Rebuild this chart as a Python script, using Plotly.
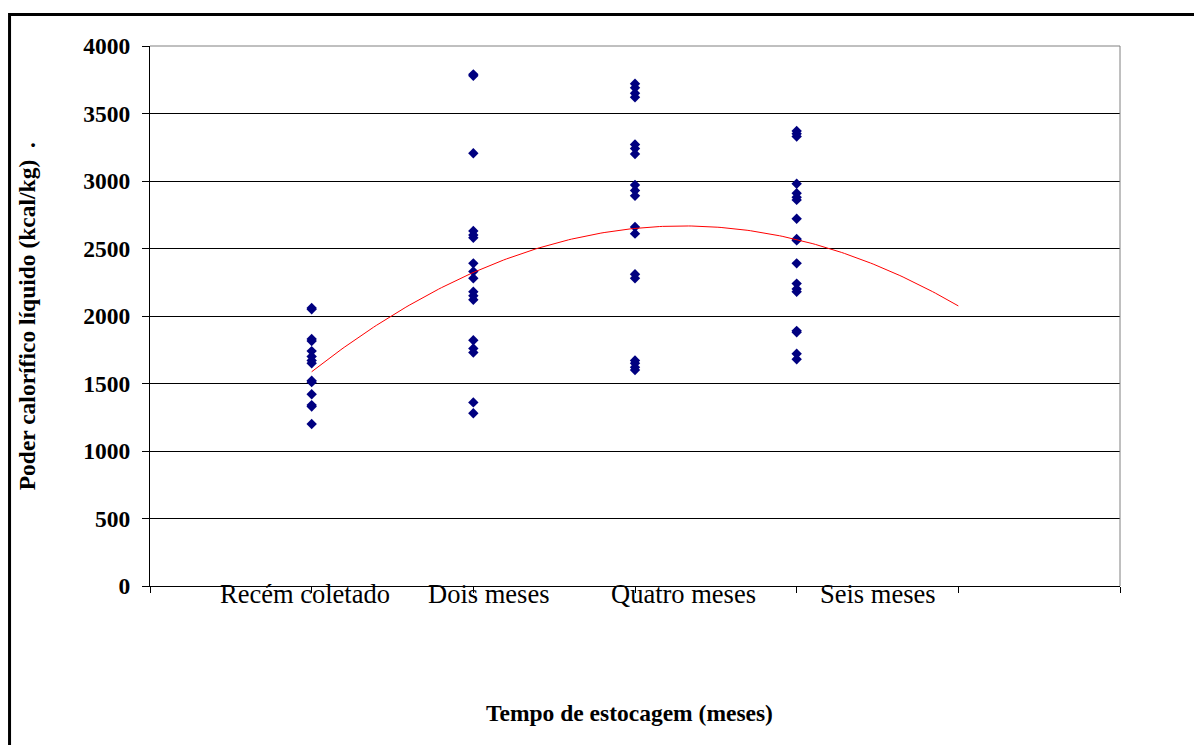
import numpy as np
import plotly.graph_objects as go

# Net calorific value (kcal/kg) measured at each storage period
periodos = ["Recém coletado", "Dois meses", "Quatro meses", "Seis meses"]
periodo_x = [1, 2, 3, 4]

recem_coletado = [2060, 2050, 1830, 1815, 1740, 1700, 1670, 1650, 1520, 1510,
                  1420, 1340, 1330, 1200]
dois_meses = [3790, 3780, 3205, 2630, 2600, 2580, 2390, 2330, 2280, 2180,
              2150, 2120, 1820, 1760, 1730, 1360, 1280]
quatro_meses = [3720, 3690, 3650, 3620, 3270, 3240, 3200, 2970, 2930, 2890,
                2660, 2610, 2310, 2280, 1670, 1650, 1620, 1600]
seis_meses = [3370, 3350, 3330, 2980, 2910, 2880, 2860, 2720, 2570, 2560,
              2390, 2240, 2200, 2180, 1890, 1880, 1720, 1680]

# polynomial (order 2) trend equation: y = a*x^2 + b*x + c
trend_coef = [-204.5, 1348.9, 442.7]
trend_x_range = [1, 5]

y_ticks = [0, 500, 1000, 1500, 2000, 2500, 3000, 3500, 4000]

grupos = [recem_coletado, dois_meses, quatro_meses, seis_meses]
xs = np.concatenate([[px] * len(g) for px, g in zip(periodo_x, grupos)])
ys = np.concatenate([np.array(g, dtype=float) for g in grupos])

xt = np.linspace(trend_x_range[0], trend_x_range[1], 200)
yt = np.polyval(trend_coef, xt)

FONT = "Liberation Serif"

fig = go.Figure()
fig.add_trace(go.Scatter(
    x=xs, y=ys, mode="markers",
    marker=dict(symbol="diamond", size=8, color="#000080", line=dict(width=0)),
    showlegend=False, hoverinfo="skip"))
fig.add_trace(go.Scatter(
    x=xt, y=yt, mode="lines",
    line=dict(color="#ff0000", width=1),
    showlegend=False, hoverinfo="skip"))

# category labels sit under the axis, offset as in the worksheet layout
label_x = [0.96, 2.094, 3.30, 4.503]
annotations = [
    dict(x=lx, y=-0.0148, xref="x", yref="paper", text=t, showarrow=False,
         xanchor="center", yanchor="middle",
         font=dict(family=FONT, size=26.5, color="black"))
    for lx, t in zip(label_x, periodos)
]
annotations.append(dict(
    x=0.4948, y=-0.2352, xref="paper", yref="paper",
    text="<b>Tempo de estocagem (meses)</b>", showarrow=False,
    xanchor="center", yanchor="middle",
    font=dict(family=FONT, size=23.5, color="black")))
annotations.append(dict(
    x=-0.1265, y=0.5, xref="paper", yref="paper",
    text="<b>Poder calorífico líquido (kcal/kg)  .</b>", showarrow=False,
    textangle=-90, xanchor="center", yanchor="middle",
    font=dict(family=FONT, size=23.5, color="black")))

shapes = [
    # outer chart frame (top and left edges)
    dict(type="path", xref="paper", yref="paper",
         path="M -0.1448,-0.32 L -0.1448,1.0583 L 1.1,1.0583",
         line=dict(color="black", width=3)),
    # plot-area border on the top and right
    dict(type="line", xref="paper", yref="paper", x0=0, x1=1, y0=1, y1=1,
         line=dict(color="#808080", width=1)),
    dict(type="line", xref="paper", yref="paper", x0=1, x1=1, y0=0, y1=1,
         line=dict(color="#808080", width=1)),
]

fig.update_layout(
    width=1194, height=745, autosize=False,
    margin=dict(l=150, r=74, t=46, b=159, pad=0),
    paper_bgcolor="white", plot_bgcolor="white",
    font=dict(family=FONT, color="black"),
    annotations=annotations, shapes=shapes,
    xaxis=dict(range=[0, 6], tickvals=[0, 1, 2, 3, 4, 5, 6],
               showticklabels=False, ticks="outside", ticklen=6,
               tickcolor="black", tickwidth=1, showgrid=False, zeroline=False,
               showline=True, linecolor="black", linewidth=1),
    yaxis=dict(range=[0, 4000], tickvals=y_ticks,
               ticktext=[f"<b>{v}</b>" for v in y_ticks],
               ticks="outside", ticklen=7, tickcolor="black", tickwidth=1,
               ticklabelstandoff=7,
               tickfont=dict(family=FONT, size=23.5, color="black"),
               showgrid=True, gridcolor="black", gridwidth=1, zeroline=False,
               showline=True, linecolor="black", linewidth=1),
)

fig.write_html("out.html")
